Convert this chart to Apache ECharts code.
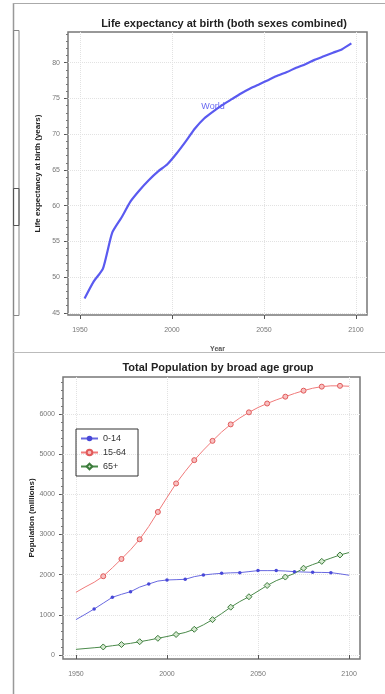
<!DOCTYPE html>
<html>
<head>
<meta charset="utf-8">
<script src="https://cdn.jsdelivr.net/npm/echarts@6/dist/echarts.min.js"></script>
<style>
html,body{margin:0;padding:0;background:#fff;}
#main{width:385px;height:694px;}
</style>
</head>
<body>
<div id="main"></div>
<script>
// life expectancy, period midpoints
var leYears = [1952.5,1957.5,1962.5,1967.5,1972.5,1977.5,1982.5,1987.5,1992.5,1997.5,
               2002.5,2007.5,2012.5,2017.5,2022.5,2027.5,2032.5,2037.5,2042.5,2047.5,
               2052.5,2057.5,2062.5,2067.5,2072.5,2077.5,2082.5,2087.5,2092.5,2097.5];
var leWorld = [47.0,49.4,51.2,56.2,58.3,60.6,62.2,63.6,64.8,65.8,
               67.3,69.0,70.8,72.2,73.2,74.1,74.9,75.7,76.4,77.0,
               77.6,78.2,78.7,79.3,79.8,80.4,80.9,81.4,81.9,82.7];

// population by age group (millions)
var popYears = [1950,1955,1960,1965,1970,1975,1980,1985,1990,1995,
                2000,2005,2010,2015,2020,2025,2030,2035,2040,2045,
                2050,2055,2060,2065,2070,2075,2080,2085,2090,2095,2100];
var pop0014 = [880,1010,1145,1290,1436,1510,1576,1690,1767,1840,
               1867,1875,1884,1950,1991,2015,2033,2045,2050,2075,
               2100,2100,2100,2090,2075,2065,2058,2055,2050,2020,1985];
var pop1564 = [1560,1690,1810,1960,2170,2390,2620,2880,3200,3560,
               3920,4270,4570,4850,5100,5330,5550,5740,5900,6040,
               6160,6260,6350,6430,6510,6580,6640,6680,6700,6700,6690];
var pop65   = [140,160,180,200,230,260,290,330,370,415,
               460,510,560,640,750,880,1030,1190,1330,1450,
               1590,1730,1850,1940,2030,2160,2250,2330,2410,2490,2550];

var mark0014 = [1960,1970,1980,1990,2000,2010,2020,2030,2040,2050,2060,2070,2080,2090];
var mark1564 = [1965,1975,1985,1995,2005,2015,2025,2035,2045,2055,2065,2075,2085,2095];
var mark65   = [1965,1975,1985,1995,2005,2015,2025,2035,2045,2055,2065,2075,2085,2095];

var yearTicks = [1950,2000,2050,2100];
var leTicks = [45,50,55,60,65,70,75,80];
var popTicks = [0,1000,2000,3000,4000,5000,6000];

var leMinor = [];
for (var i = 45; i <= 84; i++) leMinor.push(i);
var popMinor = [];
for (var j = 0; j <= 6800; j += 200) popMinor.push(j);

function pairs(xs, ys, marks) {
    return xs.map(function (x, k) {
        var item = {value: [x, ys[k]]};
        if (marks && marks.indexOf(x) < 0) item.symbol = 'none';
        return item;
    });
}

var nameStyle = {fontSize: 8, fontWeight: 'bold', color: '#222'};
var split = {show: true, lineStyle: {color: '#e2e2e2', type: 'dotted', width: 1}};
var plain = function (v) { return String(v); };

function xAx(grid, min, max, name) {
    return {
        gridIndex: grid, type: 'value', min: min, max: max,
        name: name, nameLocation: 'middle', nameGap: 31,
        nameTextStyle: {fontSize: 7, fontWeight: 'bold', color: '#555'},
        axisLine: {show: false},
        axisTick: {show: true, length: 4, customValues: yearTicks, lineStyle: {color: '#555'}},
        axisLabel: {customValues: yearTicks, margin: 12, fontSize: 7, color: '#777', formatter: plain},
        splitLine: split
    };
}
function yAx(grid, min, max, ticks, name, gap) {
    return {
        gridIndex: grid, type: 'value', min: min, max: max,
        name: name, nameLocation: 'middle', nameGap: gap, nameRotate: 90,
        nameTextStyle: nameStyle,
        axisLine: {show: false},
        axisTick: {show: true, length: 4, customValues: ticks, lineStyle: {color: '#555'}},
        axisLabel: {customValues: ticks, margin: 8, fontSize: 7, color: '#777', formatter: plain},
        splitLine: split
    };
}
function yMinor(grid, min, max, ticks) {
    return {
        gridIndex: grid, type: 'value', min: min, max: max, position: 'left',
        axisLine: {show: false},
        axisTick: {show: true, length: 2, customValues: ticks, lineStyle: {color: '#777'}},
        axisLabel: {show: false},
        splitLine: {show: false}
    };
}

var chart = echarts.init(document.getElementById('main'), null, {renderer: 'canvas'});
chart.setOption({
    animation: false,
    textStyle: {fontFamily: 'Liberation Sans'},
    title: [
        {text: 'Life expectancy at birth (both sexes combined)', left: 219, top: 13, textAlign: 'center',
         textStyle: {fontSize: 11, fontWeight: 'bold', color: '#222'}},
        {text: 'Total Population by broad age group', left: 213, top: 357, textAlign: 'center',
         textStyle: {fontSize: 11, fontWeight: 'bold', color: '#222'}}
    ],
    grid: [
        {left: 68, top: 32, width: 299, height: 283, show: true, borderColor: '#777', borderWidth: 1.5},
        {left: 63, top: 377, width: 297, height: 282, show: true, borderColor: '#777', borderWidth: 1.5}
    ],
    xAxis: [
        xAx(0, 1943.5, 2106, 'Year'),
        xAx(1, 1942.9, 2106, '')
    ],
    yAxis: [
        yAx(0, 44.7, 84.3, leTicks, 'Life expectancy at birth (years)', 26),
        yMinor(0, 44.7, 84.3, leMinor),
        yAx(1, -100, 6920, popTicks, '', 20),
        yMinor(1, -100, 6920, popMinor)
    ],
    legend: {
        left: 76, top: 429, orient: 'vertical',
        borderColor: '#333', borderWidth: 1, padding: [5, 12, 5, 4],
        itemWidth: 17, itemHeight: 7, itemGap: 5,
        textStyle: {fontSize: 9, color: '#333'},
        data: ['0-14', '15-64', '65+']
    },
    series: [
        {
            name: 'World', type: 'line', xAxisIndex: 0, yAxisIndex: 0,
            data: pairs(leYears, leWorld), showSymbol: false, smooth: 0.2,
            lineStyle: {color: '#5a5af0', width: 2.2}, itemStyle: {color: '#5a5af0'}
        },
        {
            name: '0-14', type: 'line', xAxisIndex: 1, yAxisIndex: 2,
            data: pairs(popYears, pop0014, mark0014), symbol: 'circle', symbolSize: 3.5,
            lineStyle: {color: '#6868e0', width: 1}, itemStyle: {color: '#4848d8'}
        },
        {
            name: '15-64', type: 'line', xAxisIndex: 1, yAxisIndex: 2,
            data: pairs(popYears, pop1564, mark1564), symbol: 'circle', symbolSize: 5,
            lineStyle: {color: '#f07a7a', width: 1},
            itemStyle: {color: '#f8c0c0', borderColor: '#e05a5a', borderWidth: 1}
        },
        {
            name: '65+', type: 'line', xAxisIndex: 1, yAxisIndex: 2,
            data: pairs(popYears, pop65, mark65), symbol: 'diamond', symbolSize: 6,
            lineStyle: {color: '#4a8a4a', width: 1},
            itemStyle: {color: '#d4e8ce', borderColor: '#3a7a3a', borderWidth: 1}
        }
    ],
    graphic: [
        {type: 'line', shape: {x1: 13.5, y1: 3, x2: 13.5, y2: 694}, style: {stroke: '#999', lineWidth: 1.5}},
        {type: 'line', shape: {x1: 13, y1: 3.5, x2: 385, y2: 3.5}, style: {stroke: '#aaa', lineWidth: 1}},
        {type: 'rect', shape: {x: 13.5, y: 30.5, width: 5.5, height: 285}, style: {stroke: '#888', fill: null, lineWidth: 1}},
        {type: 'rect', shape: {x: 13.5, y: 188.5, width: 5.5, height: 37}, style: {stroke: '#555', fill: null, lineWidth: 1}},
        {type: 'line', shape: {x1: 13, y1: 352.5, x2: 385, y2: 352.5}, style: {stroke: '#bbb', lineWidth: 1}},
        {type: 'text', x: 213, y: 107, style: {text: 'World', fill: '#6a6af0', fontSize: 9,
            align: 'center', verticalAlign: 'middle', fontFamily: 'Liberation Sans'}},
        {type: 'text', x: 32, y: 518, rotation: Math.PI / 2,
            style: {text: 'Population (millions)', fill: '#222', fontSize: 8, fontWeight: 'bold',
                align: 'center', verticalAlign: 'middle', fontFamily: 'Liberation Sans'}}
    ]
});
</script>
</body>
</html>
